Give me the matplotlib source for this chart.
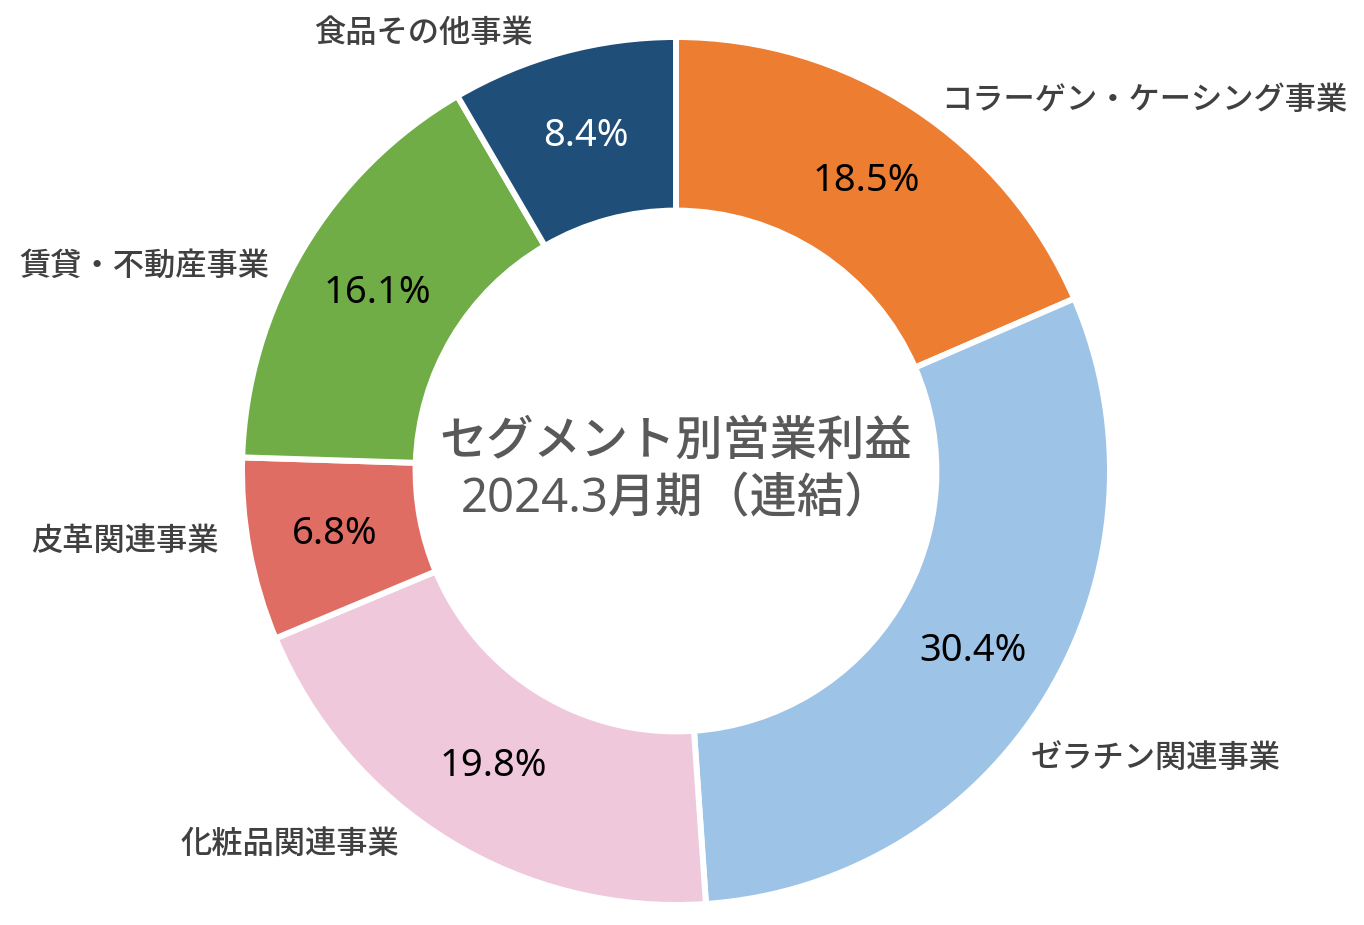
import matplotlib
matplotlib.use("Agg")
import matplotlib.pyplot as plt

plt.rcParams['font.family'] = ['Noto Sans CJK JP', 'DejaVu Sans']

# segment data (clockwise from top)
segments = ['コラーゲン・ケーシング事業', 'ゼラチン関連事業', '化粧品関連事業',
            '皮革関連事業', '賃貸・不動産事業', '食品その他事業']
shares = [18.5, 30.4, 19.8, 6.8, 16.1, 8.4]
colors = ['#ED7D31', '#9DC3E6', '#EFC8DC', '#E06D64', '#70AD47', '#1F4E79']
pct_colors = ['black', 'black', 'black', 'black', 'black', 'white']
center_title = 'セグメント別営業利益\n2024.3月期（連結）'

# where the outer labels sit (axes data units, pie radius = 1)
label_pos = [(1.079, 0.855), (1.106, -0.661), (-0.889, -0.859),
             (-1.270, -0.162), (-1.226, 0.473), (-0.582, 1.009)]

fig = plt.figure(figsize=(13.64, 9.25), dpi=100)
r_px = 434
cx, cy = 676, 925 - 471
ax = fig.add_axes([(cx - r_px) / 1364, (cy - r_px) / 925, 2 * r_px / 1364, 2 * r_px / 925])

wedges, texts, autotexts = ax.pie(
    shares, colors=colors, startangle=90, counterclock=False,
    autopct='%1.1f%%', pctdistance=0.80,
    wedgeprops=dict(width=0.40, edgecolor='white', linewidth=4.3),
    textprops=dict(fontsize=27.5, weight='medium', family=['Noto Sans', 'DejaVu Sans']))

for t, c in zip(autotexts, pct_colors):
    t.set_color(c)

for name, (x, y) in zip(segments, label_pos):
    ax.text(x, y, name, ha='center', va='center', fontsize=22.5,
            weight='medium', color='#404040')

ax.text(0, 0.0, center_title, ha='center', va='center', fontsize=34,
        weight='medium', color='#595959', linespacing=1.3,
        family=['Noto Sans', 'Noto Sans CJK JP'])

ax.set_xlim(-1, 1)
ax.set_ylim(-1, 1)
ax.set_aspect('equal')
ax.axis('off')

fig.savefig('out.png', dpi=100)
